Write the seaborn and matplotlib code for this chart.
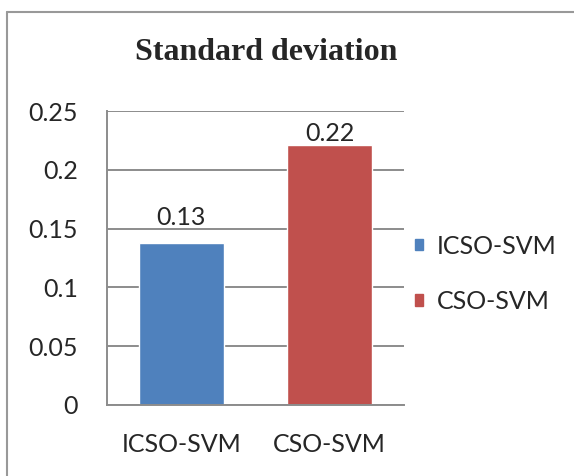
import matplotlib
matplotlib.use("Agg")
import matplotlib.pyplot as plt
import seaborn as sns
from matplotlib.lines import Line2D

# data
methods = ["ICSO-SVM", "CSO-SVM"]
std_values = [0.138, 0.221]
value_labels = ["0.13", "0.22"]
colors = ["#4F81BD", "#C0504D"]
y_ticks = [0, 0.05, 0.1, 0.15, 0.2, 0.25]
y_tick_labels = ["0", "0.05", "0.1", "0.15", "0.2", "0.25"]

sns.set_style("white")
plt.rcParams["font.family"] = ["Lato", "DejaVu Sans"]

fig = plt.figure(figsize=(5.74, 4.76), dpi=100)
ax = fig.add_axes([0.1864, 0.1492, 0.5174, 0.6176])

sns.barplot(x=methods, y=std_values, hue=methods, palette=colors,
            dodge=False, width=0.57, saturation=1, legend=False, ax=ax)

# Excel put the first label higher above its bar than the second
for cont, lab, pad in zip(ax.containers, value_labels, [10, 0]):
    ax.bar_label(cont, labels=[lab], fontsize=18, padding=pad)

ax.set_ylim(0, 0.25)
ax.set_yticks(y_ticks)
ax.set_yticklabels(y_tick_labels)
ax.yaxis.grid(True, color="#8c8c8c", linewidth=1.4)
ax.set_axisbelow(True)
ax.tick_params(axis="both", length=0, labelsize=18)
ax.tick_params(axis="y", pad=21)
ax.tick_params(axis="x", pad=20)
for side in ["top", "right"]:
    ax.spines[side].set_visible(False)
for side in ["left", "bottom"]:
    ax.spines[side].set_color("#8c8c8c")
    ax.spines[side].set_linewidth(1.4)

fig.text(0.464, 0.89, "Standard deviation", ha="center", va="center",
         fontsize=23, fontweight="bold", family="Liberation Serif")

handles = [plt.Rectangle((0, 0), 1, 1, color=c) for c in colors]
fig.legend(handles, methods, loc="upper left", bbox_to_anchor=(0.692, 0.544),
           frameon=False, fontsize=18, handlelength=0.35, handleheight=0.35,
           handletextpad=0.55, labelspacing=1.3, borderpad=0.2)

# chart border (top and left edges visible in the crop)
fig.add_artist(Line2D([7 / 574, 1], [1 - 12 / 476, 1 - 12 / 476], color="#999999", lw=1.5))
fig.add_artist(Line2D([7 / 574, 7 / 574], [0, 1 - 12 / 476], color="#999999", lw=1.5))

fig.savefig("out.png", dpi=100)
